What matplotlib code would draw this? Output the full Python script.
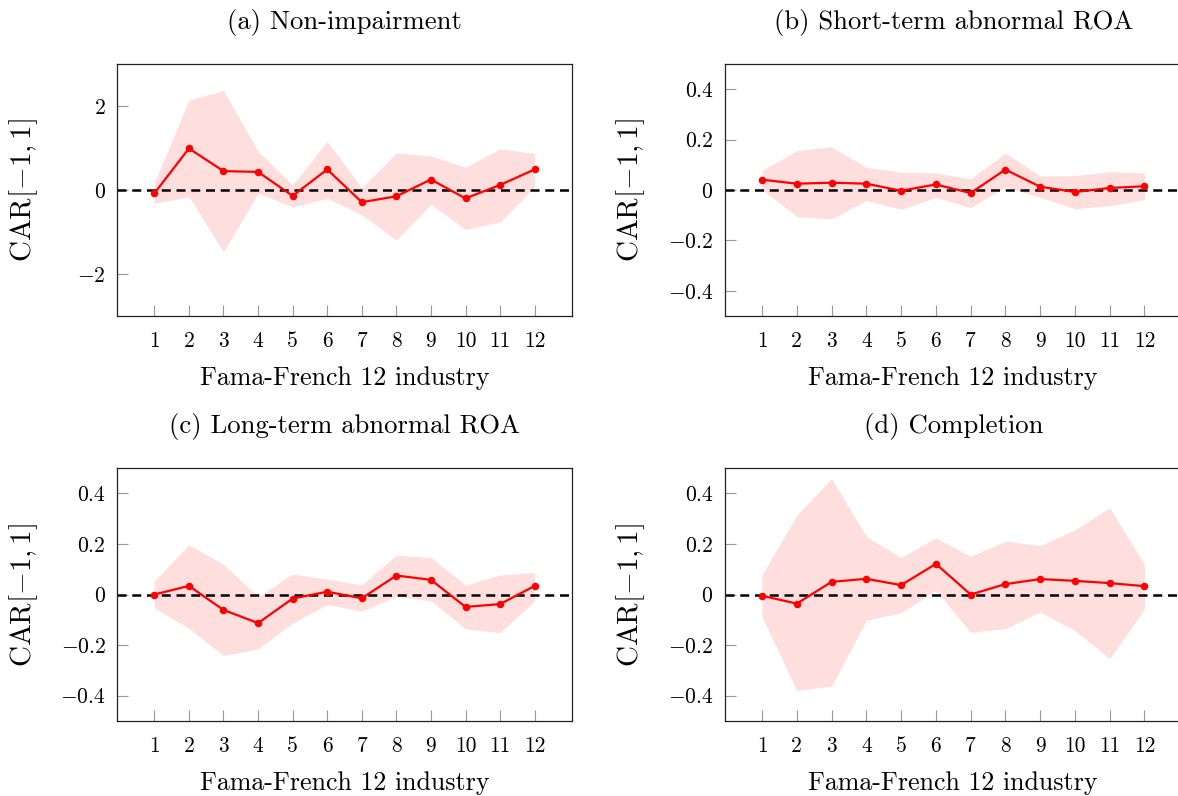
import matplotlib
matplotlib.use("Agg")
import matplotlib.pyplot as plt
import numpy as np

plt.rcParams['font.family'] = ['cmr10', 'DejaVu Serif']
plt.rcParams['mathtext.fontset'] = 'cm'
plt.rcParams['axes.formatter.use_mathtext'] = True
plt.rcParams['axes.unicode_minus'] = True

industries = list(range(1, 13))
x_ticklabels = [str(i) for i in industries]

titles = ["(a) Non-impairment", "(b) Short-term abnormal ROA",
          "(c) Long-term abnormal ROA", "(d) Completion"]

# (a) Non-impairment
a_car = [-0.08, 0.99, 0.45, 0.43, -0.14, 0.49, -0.29, -0.15, 0.25, -0.20, 0.12, 0.49]
a_upper = [0.17, 2.14, 2.37, 0.92, 0.12, 1.16, 0.05, 0.88, 0.81, 0.54, 0.98, 0.87]
a_lower = [-0.32, -0.16, -1.47, -0.08, -0.40, -0.20, -0.59, -1.19, -0.34, -0.94, -0.76, 0.08]

# (b) Short-term abnormal ROA
b_car = [0.041, 0.025, 0.029, 0.025, -0.003, 0.022, -0.012, 0.081, 0.013, -0.008, 0.008, 0.015]
b_upper = [0.077, 0.156, 0.171, 0.090, 0.070, 0.068, 0.045, 0.146, 0.056, 0.057, 0.073, 0.068]
b_lower = [0.002, -0.105, -0.115, -0.041, -0.077, -0.029, -0.070, 0.013, -0.029, -0.074, -0.062, -0.038]

# (c) Long-term abnormal ROA
c_car = [0.000, 0.034, -0.061, -0.113, -0.016, 0.011, -0.015, 0.075, 0.058, -0.049, -0.038, 0.034]
c_upper = [0.053, 0.197, 0.119, -0.009, 0.081, 0.061, 0.038, 0.156, 0.146, 0.038, 0.077, 0.087]
c_lower = [-0.053, -0.134, -0.241, -0.215, -0.113, -0.040, -0.066, -0.007, -0.025, -0.136, -0.151, -0.025]

# (d) Completion
d_car = [-0.005, -0.036, 0.050, 0.062, 0.037, 0.121, 0.000, 0.041, 0.061, 0.054, 0.045, 0.033]
d_upper = [0.077, 0.313, 0.458, 0.229, 0.146, 0.224, 0.151, 0.211, 0.193, 0.256, 0.343, 0.118]
d_lower = [-0.089, -0.379, -0.362, -0.102, -0.072, 0.016, -0.150, -0.135, -0.069, -0.142, -0.254, -0.057]

cars = [a_car, b_car, c_car, d_car]
uppers = [a_upper, b_upper, c_upper, d_upper]
lowers = [a_lower, b_lower, c_lower, d_lower]
ylims = [(-3, 3), (-0.5, 0.5), (-0.5, 0.5), (-0.5, 0.5)]
yticks = [[-2, 0, 2], [-0.4, -0.2, 0, 0.2, 0.4], [-0.4, -0.2, 0, 0.2, 0.4], [-0.4, -0.2, 0, 0.2, 0.4]]
yticklabels = [['$-2$', '$0$', '$2$']] + [['$-0.4$', '$-0.2$', '$0$', '$0.2$', '$0.4$']] * 3

W, H = 1178, 796
fig = plt.figure(figsize=(W / 100, H / 100), dpi=100)

# axes boxes in pixels: left, top, right, bottom
boxes = [(117, 64, 572, 316), (724.5, 64, 1182, 316),
         (117, 468, 572, 721), (724.5, 468, 1182, 721)]

for i in range(4):
    l, t, r, b = boxes[i]
    ax = fig.add_axes([l / W, (H - b) / H, (r - l) / W, (b - t) / H])
    ax.fill_between(industries, lowers[i], uppers[i], color='#ffdede', lw=0, zorder=1)
    ax.axhline(0, color='black', lw=1.8, dashes=(3.6, 2.3), zorder=2)
    ax.plot(industries, cars[i], color='#ff0000', lw=1.6, marker='o', ms=4.4, zorder=3)
    ax.set_xlim(-0.08, 13.08)
    ax.set_ylim(*ylims[i])
    ax.set_xticks(industries)
    ax.set_xticklabels(x_ticklabels)
    ax.set_yticks(yticks[i])
    ax.set_yticklabels(yticklabels[i])
    ax.tick_params(axis='x', direction='in', length=8, width=0.8, color='#999999',
                   labelsize=15.5, pad=11, top=False)
    ax.tick_params(axis='y', direction='in', length=8, width=0.8, color='#999999',
                   labelsize=15.5, pad=8, right=False)
    for s in ax.spines.values():
        s.set_linewidth(0.9)
        s.set_color('#222222')
    ax.set_xlabel('Fama-French 12 industry', fontsize=18.7)
    ax.xaxis.set_label_coords(0.5, -(62.0 / (b - t)))
    ax.xaxis.label.set_verticalalignment('center')
    ax.set_ylabel(r'CAR$[-1,1]$', fontsize=21)
    ax.yaxis.set_label_coords((24 - l) / (r - l) if i % 2 == 0 else (631 - l) / (r - l), 0.5)
    ax.yaxis.label.set_verticalalignment('center')
    fig.text((l + r) / 2 / W, 1 - (t - 41) / H, titles[i], fontsize=19.2,
             ha='center', va='center')

fig.savefig('out.png', dpi=100)
